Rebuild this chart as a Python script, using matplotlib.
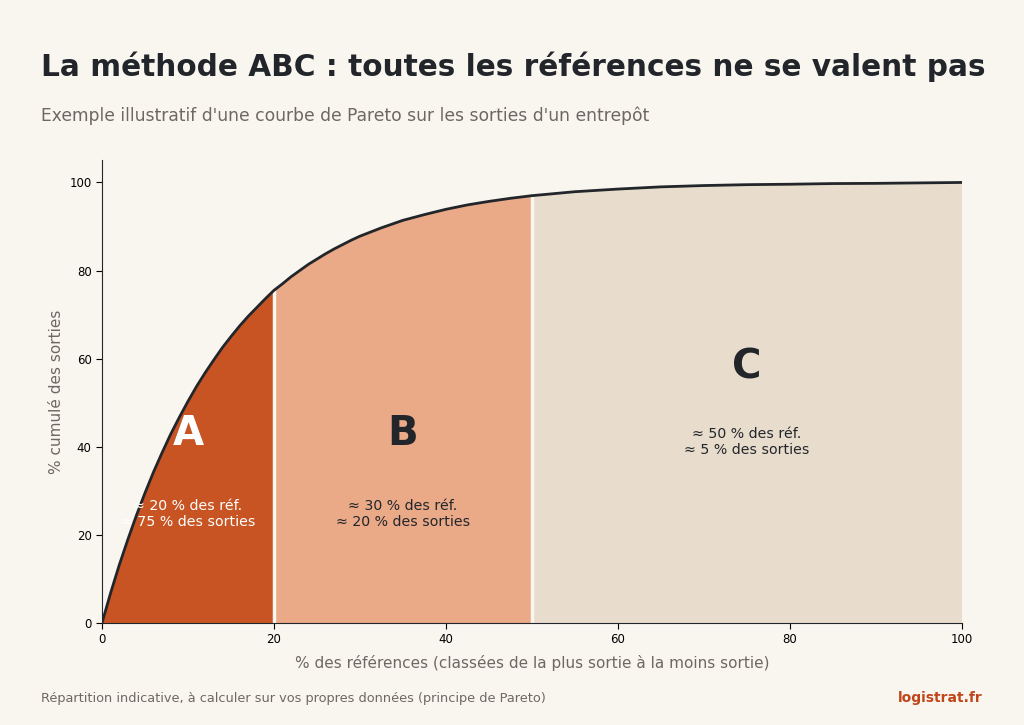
import matplotlib.pyplot as plt
import numpy as np

# % des références (cumulé) et % des sorties (cumulé)
refs = [0, 1, 2, 3, 4, 5, 6, 7, 8, 9, 10, 11, 12, 13, 14, 15, 16, 17, 18, 19,
        20, 21, 22, 23, 24, 25, 26, 27, 28, 29, 30, 32.5, 35, 37.5, 40, 42.5,
        45, 47.5, 50, 55, 60, 65, 70, 75, 80, 85, 90, 95, 100]
sorties = [0, 6.8, 13.1, 18.9, 24.4, 29.5, 34.3, 38.7, 42.9, 46.7, 50.3, 53.7,
           56.8, 59.7, 62.5, 65.0, 67.4, 69.6, 71.6, 73.6, 75.5, 77.0, 78.6,
           80.0, 81.4, 82.6, 83.8, 84.9, 85.9, 86.9, 87.8, 89.7, 91.4, 92.7,
           93.9, 94.9, 95.7, 96.4, 97.0, 97.9, 98.5, 99.0, 99.3, 99.5, 99.6,
           99.75, 99.8, 99.9, 100]

classes = ['A', 'B', 'C']
bornes = [(0, 20), (20, 50), (50, 100)]
textes = ['≈ 20 % des réf.\n≈ 75 % des sorties',
          '≈ 30 % des réf.\n≈ 20 % des sorties',
          '≈ 50 % des réf.\n≈ 5 % des sorties']
couleurs = ['#C75422', '#EAA987', '#E8DDCC']
couleurs_txt = ['white', '#22262B', '#22262B']

bg = '#F9F6F0'
dark = '#22262B'
gris = '#6F6762'

fig = plt.figure(figsize=(10.24, 7.25), dpi=100, facecolor=bg)
ax = fig.add_axes([0.0996, 0.1407, 0.8394, 0.638])
ax.set_facecolor(bg)

x = np.array(refs)
y = np.array(sorties)
for (a, b), c in zip(bornes, couleurs):
    m = (x >= a) & (x <= b)
    ax.fill_between(x[m], 0, y[m], color=c, linewidth=0)
for b in [20, 50]:
    ax.vlines(b, 0, y[refs.index(b)], color=bg, linewidth=2.5)
ax.plot(x, y, color=dark, linewidth=2)

# lettres et textes
pos_lettre = [(10, 43), (35, 43), (75, 58)]
pos_texte = [(10, 24.8), (35, 24.8), (75, 41)]
for k in range(3):
    ax.text(*pos_lettre[k], classes[k], fontsize=29, fontweight='bold',
            color=couleurs_txt[k], ha='center', va='center')
    ax.text(*pos_texte[k], textes[k], fontsize=10.2, color=couleurs_txt[k],
            ha='center', va='center', linespacing=1.2)

ax.set_xlim(0, 100)
ax.set_ylim(0, 105)
ax.set_xticks([0, 20, 40, 60, 80, 100])
ax.set_yticks([0, 20, 40, 60, 80, 100])
ax.tick_params(labelsize=8.5, colors='black', length=4)
for s in ['top', 'right']:
    ax.spines[s].set_visible(False)
for s in ['left', 'bottom']:
    ax.spines[s].set_color(dark)
ax.set_xlabel('% des références (classées de la plus sortie à la moins sortie)',
              fontsize=11, color=gris, labelpad=6)
ax.set_ylabel('% cumulé des sorties', fontsize=11, color=gris, labelpad=4)

fig.text(0.04, 0.908, 'La méthode ABC : toutes les références ne se valent pas',
         fontsize=21.3, fontweight='bold', color=dark, va='center')
fig.text(0.04, 0.841, "Exemple illustratif d'une courbe de Pareto sur les sorties d'un entrepôt",
         fontsize=12.3, color=gris, va='center')
fig.text(0.04, 0.037, 'Répartition indicative, à calculer sur vos propres données (principe de Pareto)',
         fontsize=9.25, color=gris, va='center')
fig.text(0.96, 0.037, 'logistrat.fr', fontsize=10, fontweight='bold',
         color='#C0451A', va='center', ha='right')

fig.savefig('out.png', dpi=100, facecolor=bg)
